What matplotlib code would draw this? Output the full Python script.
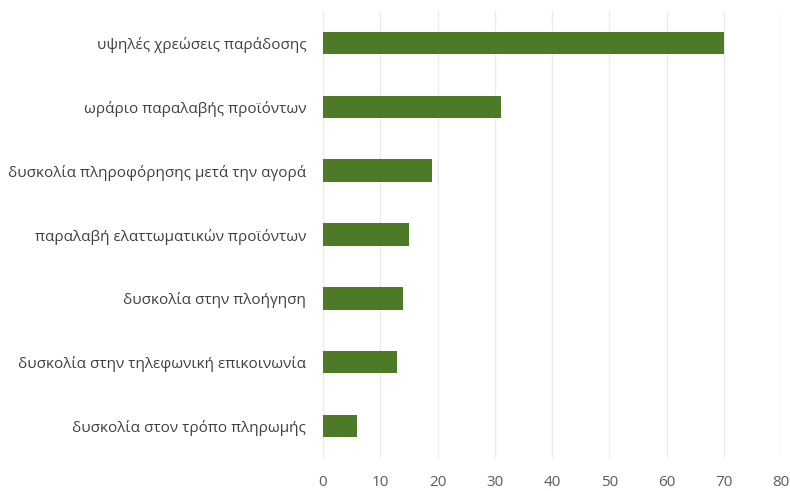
import matplotlib.pyplot as plt

plt.rcParams['font.family'] = ['Open Sans', 'DejaVu Sans']

categories = [
    'υψηλές χρεώσεις παράδοσης',
    'ωράριο παραλαβής προϊόντων',
    'δυσκολία πληροφόρησης μετά την αγορά',
    'παραλαβή ελαττωματικών προϊόντων',
    'δυσκολία στην πλοήγηση',
    'δυσκολία στην τηλεφωνική επικοινωνία',
    'δυσκολία στον τρόπο πληρωμής',
]
values = [70, 31, 19, 15, 14, 13, 6]
xticks = [0, 10, 20, 30, 40, 50, 60, 70, 80]

fig = plt.figure(figsize=(7.9, 4.91), dpi=100)
ax = fig.add_axes([0.4089, 0.0672, 0.58, 0.9104])

ypos = list(range(len(categories)))
ax.barh(ypos, values, height=0.35, color='#4e7a27', zorder=2)
ax.set_yticks(ypos)
ax.set_yticklabels(categories, fontsize=11, color='#404040')
ax.set_ylim(len(categories) - 0.5, -0.5)

ax.set_xlim(0, 80)
ax.set_xticks(xticks)
ax.set_xticklabels([str(t) for t in xticks], fontsize=11, color='#5a6050')

ax.grid(axis='x', color='#ececec', linewidth=1, zorder=0)
ax.tick_params(length=0)
ax.tick_params(axis='x', pad=12)
ax.tick_params(axis='y', pad=12)
for s in ax.spines.values():
    s.set_visible(False)

fig.savefig('out.png', dpi=100)
